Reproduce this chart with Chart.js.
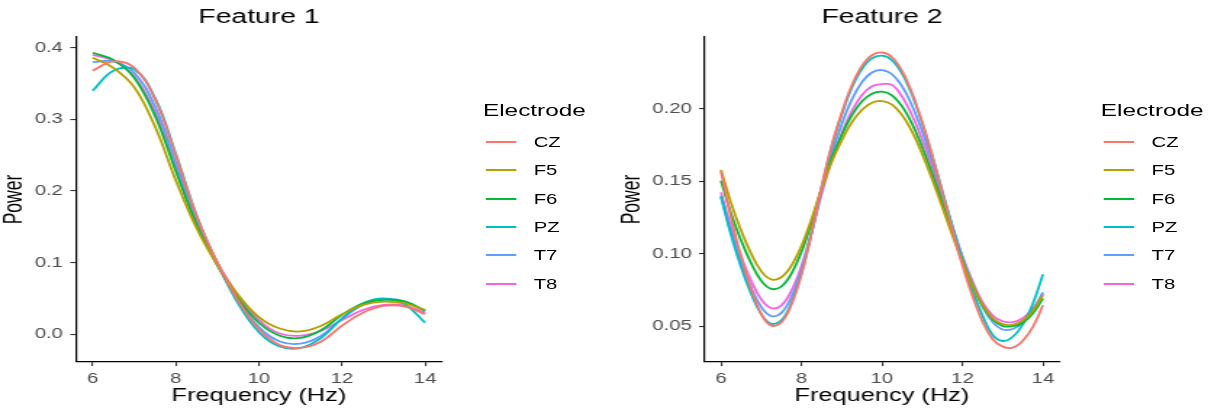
<!DOCTYPE html>
<html>
<head>
<meta charset="utf-8">
<script src="https://cdn.jsdelivr.net/npm/chart.js@4"></script>
<style>
  html, body { margin: 0; padding: 0; background: #fff; overflow: hidden; }
  /* the original plot is stretched sideways, so draw narrow and widen it */
  #stage { position: absolute; left: 0; top: 0; width: 835px; height: 413px;
           transform: scaleX(1.4503); transform-origin: 0 0;
           font-family: "Liberation Sans", Arial, sans-serif; }
  canvas { position: absolute; top: 0; }
  #c1 { left: 0; }
  #c2 { left: 426px; }
  .legend { position: absolute; top: 0; width: 75px; height: 413px; }
  .legend .ttl { position: absolute; left: 0; top: 101px; font-size: 16.8px; line-height: 20px; color: #000; white-space: nowrap; }
  .legend .item { position: absolute; left: 0; height: 20px; width: 75px; }
  .legend .sw { position: absolute; left: 1.5px; top: 9px; width: 21px; height: 2px; }
  .legend .lb { position: absolute; left: 35px; top: 0; font-size: 14px; line-height: 20px; color: #000; }
</style>
</head>
<body>
<div id="stage">
  <canvas id="c1" width="306" height="413"></canvas>
  <canvas id="c2" width="306" height="413"></canvas>
  <div class="legend" id="leg1" style="left:333px"></div>
  <div class="legend" id="leg2" style="left:759px"></div>
</div>
<script>
const electrodes = ["CZ", "F5", "F6", "PZ", "T7", "T8"];
const colores = ["#F8766D", "#B79F00", "#00BA38", "#00BFC4", "#619CFF", "#F564E3"];
const xTicks = [6, 8, 10, 12, 14];
const f1Ticks = [0.0, 0.1, 0.2, 0.3, 0.4];
const f2Ticks = [0.05, 0.10, 0.15, 0.20];

// Feature 1 (every 0.5 Hz)
const freqs1 = [6, 6.5, 7, 7.5, 8, 8.5, 9, 9.5, 10, 10.5, 11, 11.5, 12, 12.5, 13, 13.5, 14];
const f1CZ = [0.368, 0.381, 0.372, 0.328, 0.250, 0.165, 0.100, 0.047, 0.007, -0.015, -0.019, -0.010, 0.012, 0.030, 0.0395, 0.039, 0.028];
const f1F5 = [0.386, 0.372, 0.345, 0.290, 0.215, 0.148, 0.097, 0.055, 0.024, 0.008, 0.004, 0.012, 0.028, 0.041, 0.0455, 0.043, 0.034];
const f1F6 = [0.393, 0.383, 0.358, 0.305, 0.228, 0.153, 0.096, 0.050, 0.016, -0.002, -0.005, 0.006, 0.027, 0.043, 0.048, 0.046, 0.033];
const f1PZ = [0.340, 0.368, 0.370, 0.330, 0.252, 0.166, 0.099, 0.043, 0.003, -0.017, -0.019, -0.005, 0.022, 0.043, 0.050, 0.042, 0.016];
const f1T7 = [0.380, 0.381, 0.365, 0.318, 0.240, 0.162, 0.099, 0.048, 0.010, -0.010, -0.013, -0.002, 0.022, 0.041, 0.049, 0.046, 0.032];
const f1T8 = [0.390, 0.382, 0.360, 0.310, 0.232, 0.158, 0.100, 0.054, 0.020, 0.001, -0.002, 0.005, 0.020, 0.034, 0.041, 0.040, 0.030];

// Feature 2 (every 0.25 Hz)
const freqs2 = [6, 6.25, 6.5, 6.75, 7, 7.25, 7.5, 7.75, 8, 8.25, 8.5, 8.75, 9, 9.25, 9.5, 9.75, 10,
                10.25, 10.5, 10.75, 11, 11.25, 11.5, 11.75, 12, 12.25, 12.5, 12.75, 13, 13.25, 13.5, 13.75, 14];
const f2CZ = [0.157, 0.1249, 0.0982, 0.0757, 0.0586, 0.0505, 0.0528, 0.0651, 0.0859, 0.1143, 0.1464, 0.1747, 0.1974, 0.2163, 0.2296, 0.2371, 0.239,
              0.2357, 0.2261, 0.2108, 0.1909, 0.1674, 0.1421, 0.1166, 0.0921, 0.0707, 0.0532, 0.0411, 0.036, 0.0353, 0.040, 0.0497, 0.0645];
const f2F5 = [0.158, 0.1352, 0.1162, 0.1002, 0.0881, 0.0824, 0.0839, 0.0919, 0.1055, 0.124, 0.145, 0.1635, 0.1783, 0.1907, 0.1993, 0.2043, 0.2055,
              0.203, 0.1958, 0.1842, 0.169, 0.1513, 0.1321, 0.1128, 0.0943, 0.078, 0.0648, 0.0556, 0.0515, 0.0511, 0.0539, 0.0607, 0.0716];
const f2F6 = [0.1505, 0.128, 0.1093, 0.0935, 0.0815, 0.0759, 0.0775, 0.0864, 0.1014, 0.1219, 0.1451, 0.1656, 0.182, 0.1956, 0.2052, 0.2106, 0.212,
              0.2094, 0.2018, 0.1896, 0.1737, 0.1551, 0.135, 0.1147, 0.0952, 0.0782, 0.0642, 0.0547, 0.0502, 0.0501, 0.0525, 0.059, 0.0693];
const f2PZ = [0.1395, 0.1131, 0.091, 0.0725, 0.0584, 0.0518, 0.0542, 0.0662, 0.0866, 0.1144, 0.146, 0.1738, 0.196, 0.2146, 0.2275, 0.2349, 0.2368,
              0.2337, 0.2244, 0.2096, 0.1903, 0.1677, 0.1433, 0.1187, 0.095, 0.0744, 0.0574, 0.044, 0.0399, 0.0428, 0.0514, 0.0658, 0.0859];
const f2T7 = [0.140, 0.115, 0.0942, 0.0767, 0.0634, 0.0571, 0.0593, 0.0703, 0.089, 0.1146, 0.1435, 0.169, 0.1895, 0.2065, 0.2184, 0.2252, 0.2269,
              0.224, 0.2156, 0.2021, 0.1846, 0.1639, 0.1417, 0.1193, 0.0977, 0.0789, 0.0635, 0.0529, 0.0478, 0.0482, 0.0526, 0.061, 0.0735];
const f2T8 = [0.1425, 0.1184, 0.0983, 0.0815, 0.0686, 0.0626, 0.0645, 0.0746, 0.0917, 0.1149, 0.1413, 0.1645, 0.1831, 0.1986, 0.2095, 0.2157, 0.2172,
              0.2167, 0.2085, 0.1955, 0.1790, 0.1600, 0.1390, 0.1180, 0.0980, 0.0810, 0.0665, 0.0575, 0.0535, 0.0529, 0.0556, 0.0622, 0.0728];

const fonte = "'Liberation Sans', Arial, sans-serif";

function montaGrafico(id, freqs, series, titulo, yMin, yMax, yTicks, casas, larguraY) {
    const datasets = series.map(function (s, i) {
        return {
            label: electrodes[i],
            data: freqs.map(function (f, j) { return { x: f, y: s[j] }; }),
            borderColor: colores[i],
            backgroundColor: colores[i],
            borderWidth: 1.8,
            pointRadius: 0,
            tension: 0.4,
            fill: false
        };
    });

    new Chart(document.getElementById(id), {
        type: "line",
        data: { datasets: datasets },
        options: {
            responsive: false,
            devicePixelRatio: 1,
            animation: false,
            plugins: {
                legend: { display: false },
                tooltip: { enabled: false },
                title: {
                    display: true,
                    text: titulo,
                    fullSize: false,
                    color: "#000",
                    font: { family: fonte, size: 19.5, weight: "normal" },
                    padding: { top: 5.8, bottom: 7.8 }
                }
            },
            scales: {
                x: {
                    type: "linear",
                    min: 5.6,
                    max: 14.4,
                    afterBuildTicks: function (s) { s.ticks = xTicks.map(function (v) { return { value: v }; }); },
                    afterFit: function (s) { s.height = 51; },
                    ticks: {
                        color: "#4D4D4D",
                        font: { family: fonte, size: 14 },
                        padding: 5,
                        autoSkip: false,
                        maxRotation: 0,
                        callback: function (v) { return String(v); }
                    },
                    grid: { drawOnChartArea: false, tickLength: 4, color: "#333", lineWidth: 1.1 },
                    border: { display: true, color: "#000", width: 1.2 },
                    title: {
                        display: true,
                        text: "Frequency (Hz)",
                        color: "#000",
                        font: { family: fonte, size: 17.5 },
                        padding: { top: 0, bottom: 6 }
                    }
                },
                y: {
                    type: "linear",
                    min: yMin,
                    max: yMax,
                    afterBuildTicks: function (s) { s.ticks = yTicks.map(function (v) { return { value: v }; }); },
                    afterFit: function (s) { s.width = larguraY; },
                    ticks: {
                        color: "#4D4D4D",
                        font: { family: fonte, size: 14 },
                        padding: 5,
                        autoSkip: false,
                        callback: function (v) { return Number(v).toFixed(casas); }
                    },
                    grid: { drawOnChartArea: false, tickLength: 4, color: "#333", lineWidth: 1.1 },
                    border: { display: true, color: "#000", width: 1.2 },
                    title: {
                        display: true,
                        text: "Power",
                        color: "#000",
                        font: { family: fonte, size: 17.5 },
                        padding: { top: 0, bottom: 0 }
                    }
                }
            }
        }
    });
}

function montaLegenda(id) {
    const el = document.getElementById(id);
    let html = '<div class="ttl">Electrode</div>';
    electrodes.forEach(function (e, i) {
        const topo = Math.round(141.7 + 28.4 * i - 10);
        html += '<div class="item" style="top:' + topo + 'px">' +
                '<span class="sw" style="background:' + colores[i] + '"></span>' +
                '<span class="lb">' + e + '</span></div>';
    });
    el.innerHTML = html;
}

montaGrafico("c1", freqs1, [f1CZ, f1F5, f1F6, f1PZ, f1T7, f1T8], "Feature 1", -0.0387, 0.415, f1Ticks, 1, 52.4);
montaGrafico("c2", freqs2, [f2CZ, f2F5, f2F6, f2PZ, f2T7, f2T8], "Feature 2", 0.0254, 0.2497, f2Ticks, 2, 60);
montaLegenda("leg1");
montaLegenda("leg2");
</script>
</body>
</html>
